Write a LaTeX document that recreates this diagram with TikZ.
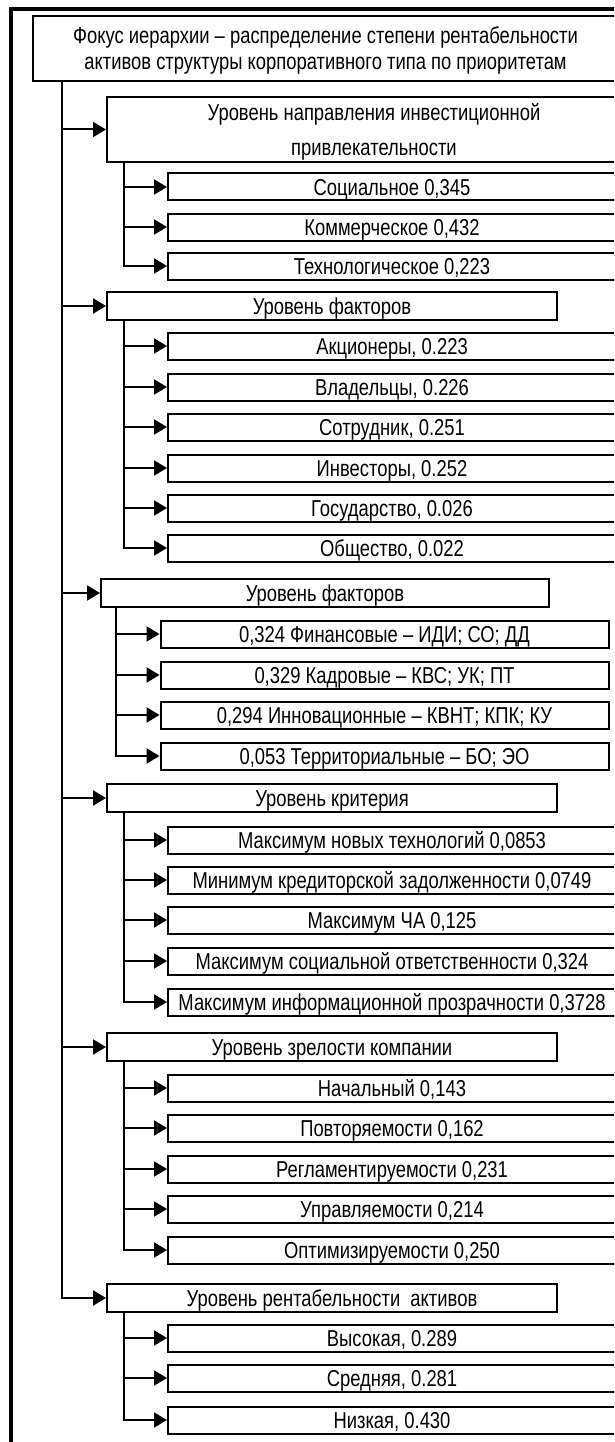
\documentclass[tikz,border=0pt]{standalone}
\usepackage{fontspec}
\setmainfont{Liberation Sans}[FakeStretch=0.8]
\usepackage{tikz}
\usetikzlibrary{arrows.meta}
\tikzset{
  hframe/.style={line width=4pt, black},
  hbox/.style  ={rectangle, draw=black, fill=white, line width=2pt, inner sep=0pt,
                 align=center, text height=17pt, text depth=0pt,
                 font=\fontsize{23}{26}\selectfont},
  hfocus/.style={hbox, minimum width=585pt, minimum height=65pt},
  hlevel/.style={hbox, minimum width=450pt, minimum height=28pt},
  hitem/.style ={hbox, minimum width=448pt, minimum height=27pt},
  hlink/.style ={line width=2pt, black},
  harrow/.style={hlink, -{Triangle[length=13pt, width=15pt]}},
}
\begin{document}
\begin{tikzpicture}[x=1pt, y=-1pt]
  \useasboundingbox (0,0) rectangle (614,1442);
  \clip (0,0) rectangle (614,1442);
  \draw[hframe] (700,9) -| (11,1500);
  % focus and levels
  \node[hfocus, text height=43pt] (focus) at (325.5,48.5)
    {Фокус иерархии – распределение степени рентабельности\\
     активов структуры корпоративного типа по приоритетам};
  \node[hfocus, minimum width=534pt, text height=52pt, text depth=-5pt,
        font=\fontsize{23}{35}\selectfont] (lvA) at (374,129.5)
    {Уровень направления инвестиционной\\привлекательности};
  \node[hlevel] (lvB) at (332,306)  {Уровень факторов};
  \node[hlevel, minimum width=448pt] (lvC) at (325,593) {Уровень факторов};
  \node[hlevel] (lvD) at (332,798)  {Уровень критерия};
  \node[hlevel] (lvE) at (332,1047) {Уровень зрелости компании};
  \node[hlevel] (lvF) at (332,1298) {Уровень рентабельности~ активов};
  % items
  \node[hitem] (a1) at (392,187) {Социальное 0,345};
  \node[hitem] (a2) at (392,227) {Коммерческое 0,432};
  \node[hitem] (a3) at (392,266) {Технологическое 0,223};
  \node[hitem] (b1) at (392,346) {Акционеры, 0.223};
  \node[hitem] (b2) at (392,387) {Владельцы, 0.226};
  \node[hitem] (b3) at (392,427) {Сотрудник, 0.251};
  \node[hitem] (b4) at (392,468) {Инвесторы, 0.252};
  \node[hitem] (b5) at (392,508) {Государство, 0.026};
  \node[hitem] (b6) at (392,548) {Общество, 0.022};
  \node[hitem] (c1) at (384.5,634) {0,324 Финансовые – ИДИ; СО; ДД};
  \node[hitem] (c2) at (384.5,675) {0,329 Кадровые – КВС; УК; ПТ};
  \node[hitem] (c3) at (384.5,715) {0,294 Инновационные – КВНТ; КПК; КУ};
  \node[hitem] (c4) at (384.5,756) {0,053 Территориальные – БО; ЭО};
  \node[hitem] (d1) at (392,840)  {Максимум новых технологий 0,0853};
  \node[hitem] (d2) at (392,880)  {Минимум кредиторской задолженности 0,0749};
  \node[hitem] (d3) at (392,920)  {Максимум ЧА 0,125};
  \node[hitem] (d4) at (392,961)  {Максимум социальной ответственности 0,324};
  \node[hitem] (d5) at (392,1002) {Максимум информационной прозрачности 0,3728};
  \node[hitem] (e1) at (392,1088) {Начальный 0,143};
  \node[hitem] (e2) at (392,1128) {Повторяемости 0,162};
  \node[hitem] (e3) at (392,1169) {Регламентируемости 0,231};
  \node[hitem] (e4) at (392,1209) {Управляемости 0,214};
  \node[hitem] (e5) at (392,1250) {Оптимизируемости 0,250};
  \node[hitem] (f1) at (392,1338) {Высокая, 0.289};
  \node[hitem] (f2) at (392,1378) {Средняя, 0.281};
  \node[hitem] (f3) at (392,1420) {Низкая, 0.430};
  % trunks
  \coordinate (root) at (62,81);
  \coordinate (tA) at (124,162);
  \coordinate (tB) at (124,320);
  \coordinate (tC) at (116,607);
  \coordinate (tD) at (124,812);
  \coordinate (tE) at (124,1061);
  \coordinate (tF) at (124,1312);
  \draw[harrow] (root) |- (lvA.west);
  \draw[harrow] (root) |- (lvB.west);
  \draw[harrow] (root) |- (lvC.west);
  \draw[harrow] (root) |- (lvD.west);
  \draw[harrow] (root) |- (lvE.west);
  \draw[harrow] (root) |- (lvF.west);
  \draw[harrow] (tA) |- (a1.west);
  \draw[harrow] (tA) |- (a2.west);
  \draw[harrow] (tA) |- (a3.west);
  \draw[harrow] (tB) |- (b1.west);
  \draw[harrow] (tB) |- (b2.west);
  \draw[harrow] (tB) |- (b3.west);
  \draw[harrow] (tB) |- (b4.west);
  \draw[harrow] (tB) |- (b5.west);
  \draw[harrow] (tB) |- (b6.west);
  \draw[harrow] (tC) |- (c1.west);
  \draw[harrow] (tC) |- (c2.west);
  \draw[harrow] (tC) |- (c3.west);
  \draw[harrow] (tC) |- (c4.west);
  \draw[harrow] (tD) |- (d1.west);
  \draw[harrow] (tD) |- (d2.west);
  \draw[harrow] (tD) |- (d3.west);
  \draw[harrow] (tD) |- (d4.west);
  \draw[harrow] (tD) |- (d5.west);
  \draw[harrow] (tE) |- (e1.west);
  \draw[harrow] (tE) |- (e2.west);
  \draw[harrow] (tE) |- (e3.west);
  \draw[harrow] (tE) |- (e4.west);
  \draw[harrow] (tE) |- (e5.west);
  \draw[harrow] (tF) |- (f1.west);
  \draw[harrow] (tF) |- (f2.west);
  \draw[harrow] (tF) |- (f3.west);
\end{tikzpicture}
\end{document}
